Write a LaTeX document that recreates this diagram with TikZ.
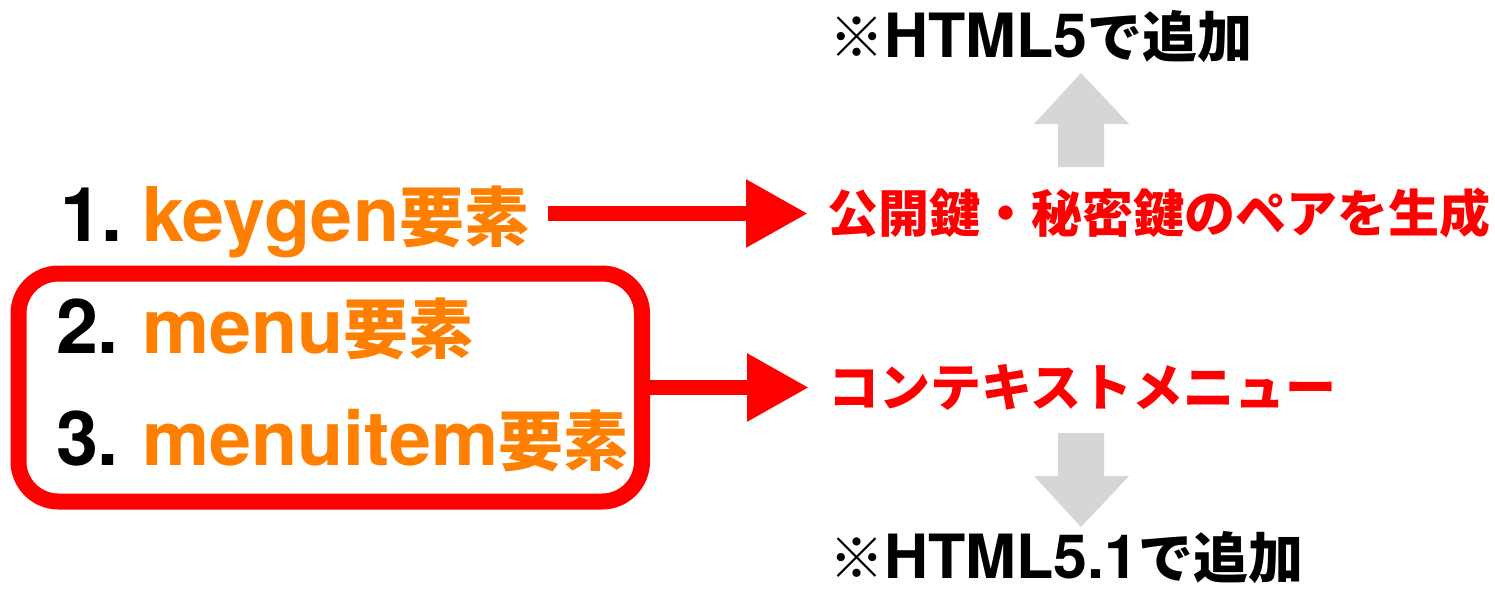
\documentclass[tikz,border=0pt]{standalone}
\usepackage{fontspec}
\setmainfont{TeX Gyre Heros}
\newfontfamily\jpfont{Noto Sans CJK JP}
\usetikzlibrary{arrows.meta}
\definecolor{myorange}{RGB}{255,128,0}
\definecolor{myred}{RGB}{255,0,0}
\definecolor{mygray}{RGB}{214,214,214}
\newcommand{\latbig}{\fontsize{75.5}{75.5}\selectfont\bfseries}
\newcommand{\jpbig}[1]{{\jpfont\bfseries\fontsize{65}{65}\selectfont #1}}
\newcommand{\jpmid}[1]{{\jpfont\bfseries\fontsize{51}{51}\selectfont #1}}
\newcommand{\jpnote}[1]{{\jpfont\bfseries\fontsize{55}{55}\selectfont #1}}
\newcommand{\kome}{{\jpfont\fontsize{55}{55}\selectfont ※}}
\newcommand{\latnote}{\fontsize{61}{61}\selectfont\bfseries}
\begin{document}
\begin{tikzpicture}[x=1pt,y=-1pt,
  txt/.style={inner sep=0pt, outer sep=0pt},
  numtxt/.style={txt, anchor=base west, text=black},
  eltxt/.style={txt, anchor=base west, text=myorange},
  redtxt/.style={txt, anchor=west, text=myred},
  notetxt/.style={txt, anchor=base west, text=black},
  redarrow/.style={draw=myred, line width=15pt, -{Triangle[length=62pt,width=64pt]}},
  grayarrow/.style={fill=mygray, draw=none},
  groupbox/.style={draw=myred, line width=16pt, rounded corners=40pt, fill=white,
    minimum width=623.5pt, minimum height=228pt, inner sep=0pt, outer sep=8pt}]
\useasboundingbox (0,0) rectangle (1495,590);

% group box
\node[groupbox] (box) at (330.25,387.5) {};

% left items
\node[numtxt] (n1) at (60,241) {\latbig 1.};
\node[eltxt] (keygen) at (142,241) {\latbig keygen\jpbig{要素}};
\node[numtxt] (n2) at (56,353) {\latbig 2.};
\node[eltxt] (menu) at (142,353) {\latbig menu\jpbig{要素}};
\node[numtxt] (n3) at (56,465) {\latbig 3.};
\node[eltxt] (menuitem) at (142,465) {\latbig menuitem\jpbig{要素}};

% right texts
\node[redtxt] (pair) at (827,213.5) {\jpmid{公開鍵・秘密鍵のペアを生成}};
\node[redtxt] (ctx) at (828,387) {\jpmid{コンテキストメニュー}};
\node[notetxt] (html5) at (829,57) {\kome\latnote HTML5\jpnote{で追加}};
\node[notetxt] (html51) at (829,578) {\kome\latnote HTML5.1\jpnote{で追加}};

% red connectors
\draw[redarrow, shorten <=19pt, shorten >=19pt] (keygen.east |- pair.west) -- (pair.west);
\draw[redarrow, shorten >=19pt] (box.east) -- (box.east -| ctx.west);

% gray block arrows
\draw[grayarrow] (1058,167) -- (1058,124) -- (1034,124) -- (1081,73) -- (1129,124) -- (1104,124) -- (1104,167) -- cycle;
\draw[grayarrow] (1058,433) -- (1058,476) -- (1034,476) -- (1081,527) -- (1129,476) -- (1104,476) -- (1104,433) -- cycle;
\end{tikzpicture}
\end{document}
